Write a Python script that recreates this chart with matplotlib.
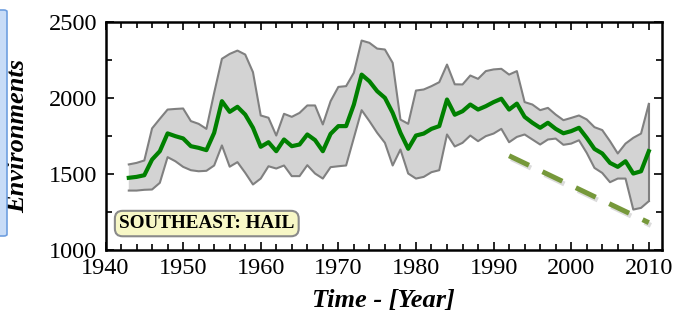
import matplotlib
matplotlib.use("Agg")
import matplotlib.pyplot as plt
import matplotlib.patheffects as pe
from matplotlib.patches import FancyBboxPatch
from matplotlib.ticker import MultipleLocator
import numpy as np

years = list(range(1943, 2011))
mid = [1475, 1481, 1492, 1595, 1650, 1767, 1749, 1734, 1683, 1672, 1657, 1771, 1979,
       1909, 1942, 1891, 1804, 1679, 1709, 1650, 1727, 1683, 1694, 1760, 1723, 1650, 1764, 1815,
       1815, 1957, 2154, 2110, 2045, 2001, 1902, 1771, 1666, 1753, 1766, 1797, 1815, 1990, 1890,
       1913, 1957, 1924, 1946, 1973, 1995, 1924, 1963, 1876, 1837, 1804, 1837, 1797, 1768, 1782,
       1804, 1738, 1665, 1635, 1573, 1547, 1584, 1503, 1518, 1650]
upper = [1563, 1573, 1589, 1800, 1863, 1924, 1928, 1931, 1848, 1830, 1797, 2034, 2258,
         2290, 2312, 2286, 2170, 1885, 1870, 1753, 1896, 1876, 1902, 1951, 1951, 1826, 1979, 2073,
         2078, 2166, 2378, 2363, 2325, 2319, 2231, 1858, 1830, 2049, 2056, 2078, 2104, 2220, 2090,
         2089, 2148, 2126, 2177, 2188, 2192, 2154, 2177, 1973, 1957, 1920, 1935, 1891, 1854, 1869,
         1885, 1859, 1808, 1789, 1716, 1635, 1700, 1738, 1766, 1961]
lower = [1391, 1391, 1396, 1398, 1442, 1611, 1584, 1547, 1525, 1518, 1521, 1556, 1688,
         1548, 1578, 1508, 1431, 1470, 1551, 1536, 1556, 1486, 1486, 1558, 1503, 1470, 1545, 1551,
         1556, 1738, 1920, 1848, 1771, 1705, 1556, 1661, 1503, 1470, 1481, 1512, 1525, 1760, 1681,
         1705, 1753, 1716, 1749, 1766, 1797, 1709, 1744, 1760, 1727, 1694, 1727, 1733, 1692, 1700,
         1722, 1639, 1540, 1507, 1446, 1470, 1470, 1266, 1277, 1321]
trend_years = [1992, 2010]
trend_vals = [1620, 1180]

x_ticks = [1940, 1950, 1960, 1970, 1980, 1990, 2000, 2010]
y_ticks = [1000, 1500, 2000, 2500]
title_box = "SOUTHEAST: HAIL"
xlabel = "Time - [Year]"
ylabel = "Environments"

plt.rcParams['font.family'] = ['Liberation Serif', 'DejaVu Serif']

fig = plt.figure(figsize=(6.82, 3.25), dpi=100)
ax = fig.add_axes([105.5/682, 1-250/325, (662-105.5)/682, 228/325])

ax.fill_between(years, lower, upper, facecolor='#d3d3d3', edgecolor='none', zorder=1)
ax.plot(years, upper, color='#808080', lw=1.5, zorder=2)
ax.plot(years, lower, color='#808080', lw=1.5, zorder=2)
ax.plot([years[-1], years[-1]], [lower[-1], upper[-1]], color='#808080', lw=1.5, zorder=2)
ax.plot(years, mid, color='#008000', lw=3.0, zorder=3, solid_joinstyle='round')

ax.plot(trend_years, trend_vals, color='#76983a', lw=3.6, dashes=(4.4, 3.0),
        dash_capstyle='butt', zorder=4,
        path_effects=[pe.SimpleLineShadow(offset=(1.5, -2.0), shadow_color='#999999', alpha=0.35),
                      pe.Normal()])

ax.set_xlim(1940, 2011.7)
ax.set_ylim(1000, 2500)
ax.set_xticks(x_ticks)
ax.set_yticks(y_ticks)
ax.xaxis.set_minor_locator(MultipleLocator(2))
ax.yaxis.set_minor_locator(MultipleLocator(250))
ax.tick_params(which='both', direction='in', top=True, right=True, labelsize=17.5, width=1.2)
ax.tick_params(which='major', length=6, pad=6)
ax.tick_params(which='minor', length=4)
for s in ax.spines.values():
    s.set_linewidth(1.8)

ax.set_xlabel(xlabel, fontsize=19, fontweight='bold', fontstyle='italic', labelpad=7)
ax.set_ylabel(ylabel, fontsize=19, fontweight='bold', fontstyle='italic', labelpad=14)

ax.text(0.182, 0.116, title_box, transform=ax.transAxes, ha='center', va='center',
        fontsize=13.8, fontweight='bold', zorder=6,
        bbox=dict(boxstyle='round,pad=0.22,rounding_size=0.4', facecolor='#f7f7c6',
                  edgecolor='#8a8a8a', linewidth=1.5))

# partial blue panel at the left edge
fig.patches.append(FancyBboxPatch((-0.02, 1-236/325), 0.02 + 7/682, 226/325,
                                  boxstyle='round,pad=0,rounding_size=0.005',
                                  transform=fig.transFigure, facecolor='#c8dcf7',
                                  edgecolor='#6f9fe0', linewidth=1.2, zorder=0))

fig.savefig('out.png', dpi=100)
